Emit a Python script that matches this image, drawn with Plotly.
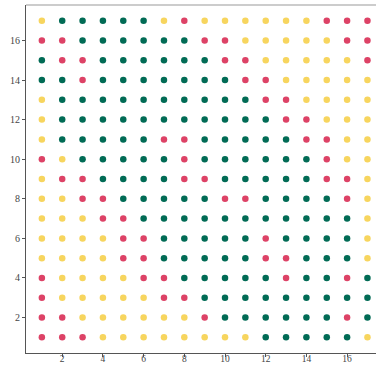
import plotly.graph_objects as go

# Category grid: rows from y=17 (top) down to y=1, columns x=1..17
# Y = yellow, G = green, R = red
rows_top_to_bottom = [
    "YGGGGGYRYYYYYYRRR",  # 17
    "RRGGGGGGRRYYYYYRR",  # 16
    "GRRGGGGGGRRYYYYYR",  # 15
    "GGRGGGGGGGRRYYYYY",  # 14
    "YGGGGGGGGGGRRYYYY",  # 13
    "YGGGGGGGGGGGRRYYY",  # 12
    "YGGGGGRRGGGGGRRYY",  # 11
    "RYGGGGGRGGGGGGRYY",  # 10
    "YRRGGGGRRGGGGGRRY",  # 9
    "YYRRGGGGGRRGGGGRY",  # 8
    "YYYRRGGGGGGGGGGGY",  # 7
    "YYYYRRGGGGGRGGGGY",  # 6
    "YYYYRRGGGGGRRGGGY",  # 5
    "RYYYYRRGGGGGRGGRG",  # 4
    "RYYYYYRRGGGGGGGGG",  # 3
    "RRYYYYYYRGGGGGGRG",  # 2
    "RRRYYYYYYYYGGGGGY",  # 1
]
y_levels = list(range(17, 0, -1))
x_levels = list(range(1, 18))
x_ticks = [2, 4, 6, 8, 10, 12, 14, 16]
y_ticks = [2, 4, 6, 8, 10, 12, 14, 16]

palette = {"Y": "#F7D55E", "G": "#016B55", "R": "#DD4266"}

fig = go.Figure()
for cat, col in palette.items():
    xs, ys = [], []
    for yv, row in zip(y_levels, rows_top_to_bottom):
        for xv, c in zip(x_levels, row):
            if c == cat:
                xs.append(xv)
                ys.append(yv)
    fig.add_trace(go.Scatter(x=xs, y=ys, mode="markers",
                             marker=dict(color=col, size=6.5, line=dict(width=0)),
                             showlegend=False, hoverinfo="skip"))

tickfont = dict(family="Liberation Serif, DejaVu Serif, serif", size=10, color="#444")
xtickfont = dict(family="Liberation Serif, DejaVu Serif, serif", size=9.5, color="#444")
fig.update_layout(
    width=376, height=365,
    margin=dict(l=25.5, r=0, t=4.5, b=12, autoexpand=False),
    paper_bgcolor="white", plot_bgcolor="white",
    xaxis=dict(range=[0.22, 17.42], tickvals=x_ticks, ticks="outside", ticklen=3,
               tickcolor="#555", showline=True, linecolor="#555", linewidth=1,
               showgrid=False, zeroline=False, tickfont=xtickfont, automargin=False,
               ticklabelstandoff=-6),
    yaxis=dict(range=[0.21, 17.79], tickvals=y_ticks, ticks="outside", ticklen=3,
               tickcolor="#555", showline=True, linecolor="#555", linewidth=1,
               showgrid=False, zeroline=False, tickfont=tickfont, automargin=False),
    shapes=[dict(type="line", xref="paper", yref="paper", x0=0, x1=1, y0=1, y1=1,
                 line=dict(color="#BBBBBB", width=1.5))],
)
fig.write_html("out.html")
